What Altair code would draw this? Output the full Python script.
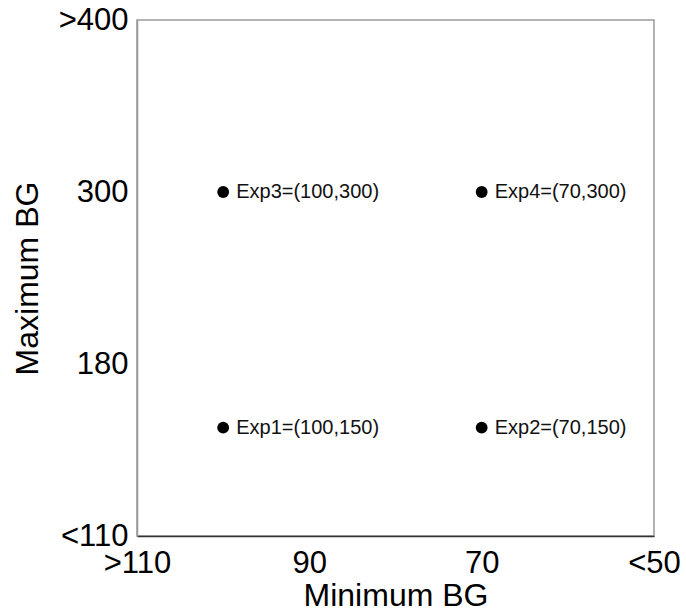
import altair as alt
import pandas as pd

# Experiment settings: minimum / maximum blood glucose thresholds
exp_names = ["Exp1", "Exp2", "Exp3", "Exp4"]
min_bg = [100, 70, 100, 70]
max_bg = [150, 150, 300, 300]

# Axis breakpoints and their labels
x_ticks = [110, 90, 70, 50]
x_tick_labels = [">110", "90", "70", "<50"]
y_ticks = [110, 180, 300, 400]
y_tick_labels = ["<110", "180", "300", ">400"]

W, H = 517, 516
FONT = "Liberation Sans"

df = pd.DataFrame({"name": exp_names, "min_bg": min_bg, "max_bg": max_bg})


def label_expr(values, labels):
    expr = "''"
    for v, lab in reversed(list(zip(values, labels))):
        expr = f"datum.value == {v} ? '{lab}' : ({expr})"
    return expr


x_enc = alt.X(
    "min_bg:Q",
    title="Minimum BG",
    scale=alt.Scale(domain=[x_ticks[0], x_ticks[-1]], nice=False, zero=False),
    axis=alt.Axis(
        values=x_ticks,
        labelExpr=label_expr(x_ticks, x_tick_labels),
        ticks=False,
        grid=False,
        labelFlush=False,
        labelOverlap=False,
        labelPadding=12,
        titlePadding=2,
        domainColor="#333333",
        domainWidth=1.5,
    ),
)

# Equal spacing between the y breakpoints, log-interpolated inside each segment
y_range = [H * (1 - i / (len(y_ticks) - 1)) for i in range(len(y_ticks))]
y_enc = alt.Y(
    "max_bg:Q",
    title="Maximum BG",
    scale=alt.Scale(type="log", domain=y_ticks, range=y_range, nice=False),
    axis=alt.Axis(
        values=y_ticks,
        labelExpr=label_expr(y_ticks, y_tick_labels),
        ticks=False,
        grid=False,
        labelFlush=False,
        labelOverlap=False,
        labelPadding=9,
        titlePadding=14,
        domainColor="#999999",
        domainWidth=1.5,
    ),
)

points = alt.Chart(df).mark_circle(size=140, color="black", opacity=1).encode(
    x=x_enc, y=y_enc
)

labels = (
    alt.Chart(df)
    .transform_calculate(
        label="datum.name + '=(' + datum.min_bg + ',' + datum.max_bg + ')'"
    )
    .mark_text(align="left", baseline="middle", dx=13, fontSize=20, font=FONT, color="#111111")
    .encode(x="min_bg:Q", y="max_bg:Q", text="label:N")
)

chart = (
    alt.layer(points, labels)
    .properties(
        width=W,
        height=H,
        autosize=alt.AutoSizeParams(type="none"),
        padding={"left": 137, "top": 20, "right": 32, "bottom": 79},
        background="white",
    )
    .configure_view(stroke="#999999", strokeWidth=1.5)
    .configure_axis(
        labelFont=FONT,
        titleFont=FONT,
        labelFontSize=31,
        titleFontSize=32,
        labelColor="black",
        titleColor="black",
        titleFontWeight="normal",
    )
)

chart.save("out.html", embed_options={"renderer": "svg", "actions": False})
